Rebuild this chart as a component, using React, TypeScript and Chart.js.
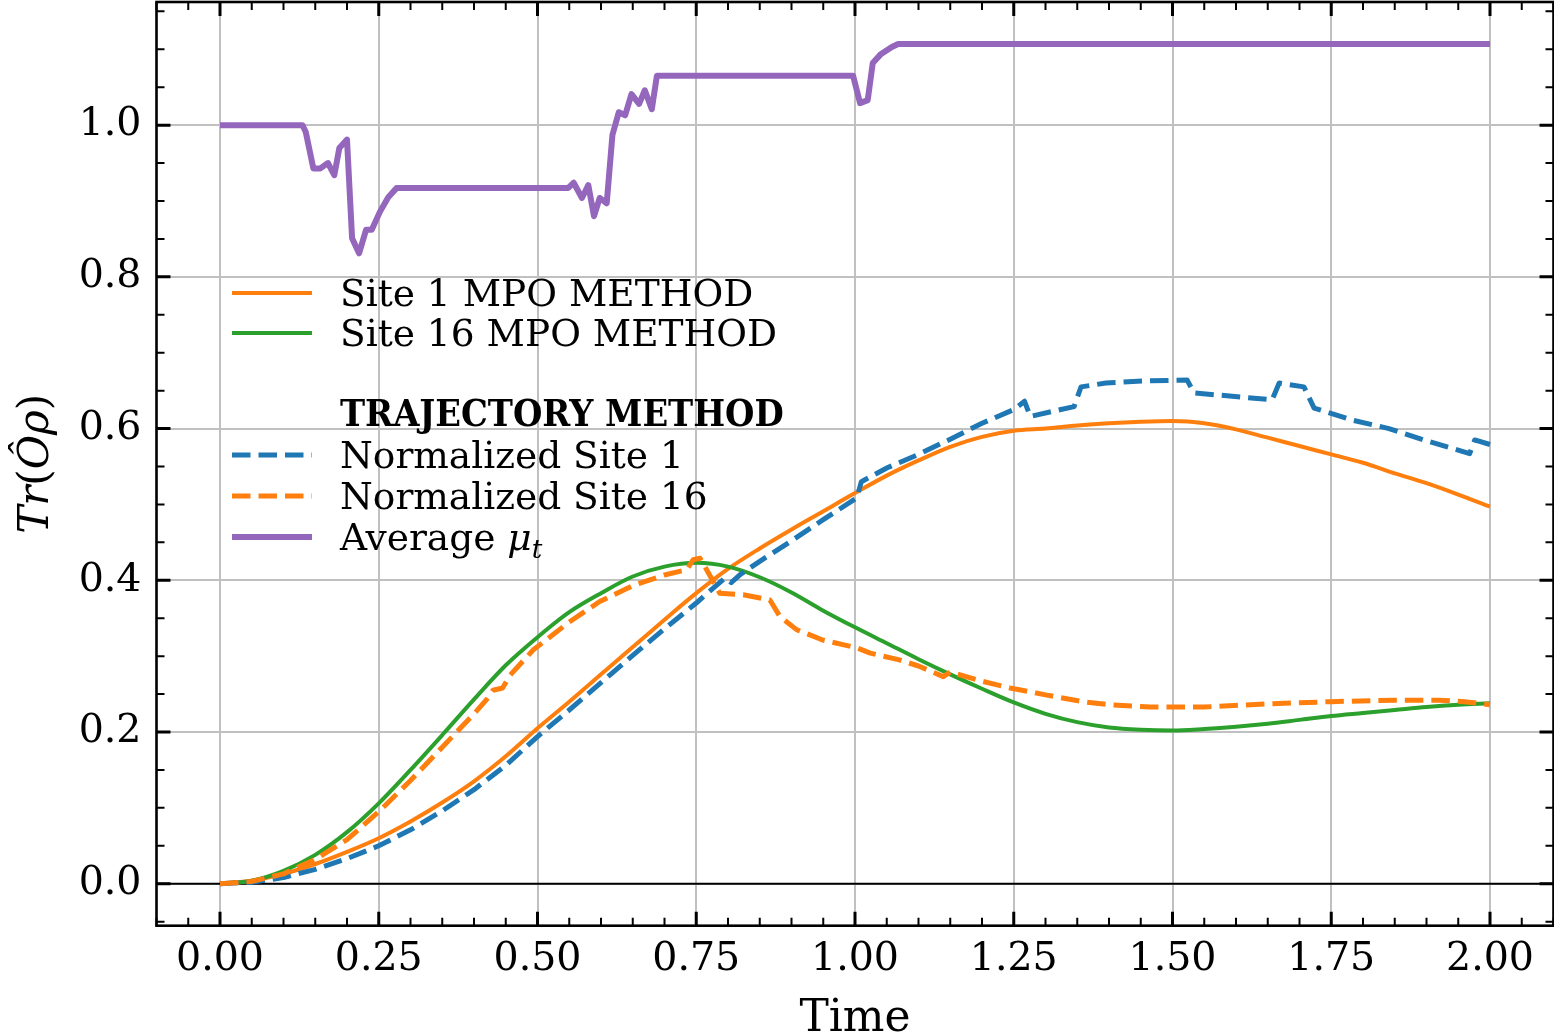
import { useEffect, useRef } from "react";
import { Chart, registerables } from "chart.js";

Chart.register(...registerables);

// ---------------- data ----------------
const site1MpoTimes = [0, 0.05, 0.1, 0.15, 0.2, 0.25, 0.3, 0.35, 0.4, 0.45, 0.5, 0.55, 0.6, 0.65, 0.7, 0.75, 0.8, 0.85, 0.9, 0.95, 1.0, 1.05, 1.1, 1.15, 1.2, 1.25, 1.3, 1.35, 1.4, 1.45, 1.5, 1.55, 1.6, 1.65, 1.7, 1.75, 1.8, 1.85, 1.9, 1.95, 2.0];
const site1MpoValues = [0, 0.004, 0.013, 0.026, 0.042, 0.06, 0.082, 0.107, 0.135, 0.168, 0.205, 0.24, 0.276, 0.312, 0.348, 0.383, 0.415, 0.442, 0.467, 0.491, 0.515, 0.538, 0.558, 0.576, 0.589, 0.597, 0.6, 0.604, 0.607, 0.609, 0.61, 0.607, 0.599, 0.588, 0.577, 0.566, 0.555, 0.541, 0.528, 0.513, 0.497];

const site16MpoTimes = [0, 0.05, 0.1, 0.15, 0.2, 0.25, 0.3, 0.35, 0.4, 0.45, 0.5, 0.55, 0.6, 0.65, 0.7, 0.75, 0.8, 0.85, 0.9, 0.95, 1.0, 1.05, 1.1, 1.15, 1.2, 1.25, 1.3, 1.35, 1.4, 1.45, 1.5, 1.55, 1.6, 1.65, 1.7, 1.75, 1.8, 1.85, 1.9, 1.95, 2.0];
const site16MpoValues = [0, 0.004, 0.017, 0.038, 0.068, 0.106, 0.15, 0.196, 0.243, 0.288, 0.325, 0.358, 0.383, 0.405, 0.418, 0.423, 0.418, 0.404, 0.384, 0.36, 0.338, 0.317, 0.296, 0.276, 0.257, 0.239, 0.224, 0.213, 0.206, 0.203, 0.202, 0.204, 0.207, 0.211, 0.216, 0.221, 0.225, 0.229, 0.233, 0.236, 0.238];

const trajSite1Times = [0, 0.05, 0.1, 0.15, 0.2, 0.25, 0.3, 0.35, 0.4, 0.45, 0.5, 0.55, 0.6, 0.65, 0.7, 0.75, 0.78, 0.795, 0.805, 0.82, 0.85, 0.9, 0.95, 1.0, 1.005, 1.01, 1.05, 1.1, 1.15, 1.2, 1.25, 1.267, 1.276, 1.345, 1.356, 1.395, 1.46, 1.523, 1.534, 1.657, 1.668, 1.707, 1.723, 1.784, 1.841, 1.896, 1.968, 1.976, 2.0];
const trajSite1Values = [0, 0.002, 0.008, 0.019, 0.033, 0.05, 0.071, 0.096, 0.124, 0.156, 0.194, 0.229, 0.265, 0.301, 0.336, 0.37, 0.392, 0.403, 0.397, 0.408, 0.425, 0.452, 0.48, 0.507, 0.515, 0.53, 0.548, 0.566, 0.586, 0.607, 0.625, 0.636, 0.616, 0.629, 0.655, 0.66, 0.663, 0.664, 0.647, 0.638, 0.66, 0.655, 0.627, 0.611, 0.6, 0.585, 0.567, 0.585, 0.579];

const trajSite16Times = [0, 0.05, 0.1, 0.15, 0.2, 0.25, 0.3, 0.35, 0.4, 0.42, 0.43, 0.445, 0.457, 0.493, 0.55, 0.598, 0.65, 0.7, 0.735, 0.745, 0.756, 0.769, 0.787, 0.824, 0.866, 0.882, 0.908, 0.95, 1.003, 1.024, 1.07, 1.1, 1.139, 1.15, 1.2, 1.244, 1.3, 1.359, 1.4, 1.465, 1.55, 1.65, 1.75, 1.85, 1.92, 1.96, 2.0];
const trajSite16Values = [0, 0.003, 0.013, 0.032, 0.058, 0.095, 0.136, 0.18, 0.224, 0.243, 0.255, 0.258, 0.275, 0.308, 0.345, 0.372, 0.393, 0.407, 0.414, 0.427, 0.429, 0.41, 0.383, 0.381, 0.374, 0.352, 0.335, 0.321, 0.311, 0.304, 0.295, 0.287, 0.273, 0.279, 0.267, 0.258, 0.249, 0.24, 0.236, 0.233, 0.233, 0.237, 0.24, 0.242, 0.242, 0.24, 0.236];

const averageMuTimes = [0, 0.13, 0.135, 0.147, 0.158, 0.17, 0.18, 0.188, 0.2, 0.208, 0.219, 0.23, 0.239, 0.252, 0.265, 0.278, 0.548, 0.557, 0.57, 0.58, 0.589, 0.598, 0.609, 0.618, 0.628, 0.638, 0.648, 0.66, 0.669, 0.68, 0.688, 0.997, 1.008, 1.02, 1.028, 1.04, 1.058, 1.068, 2.0];
const averageMuValues = [1.0, 1.0, 0.991, 0.943, 0.943, 0.95, 0.934, 0.97, 0.981, 0.851, 0.831, 0.862, 0.862, 0.886, 0.905, 0.917, 0.917, 0.924, 0.904, 0.921, 0.88, 0.904, 0.897, 0.987, 1.017, 1.013, 1.041, 1.028, 1.046, 1.021, 1.065, 1.065, 1.029, 1.033, 1.082, 1.093, 1.103, 1.107, 1.107];

const xTickValues = [0, 0.25, 0.5, 0.75, 1.0, 1.25, 1.5, 1.75, 2.0];
const yTickValues = [0, 0.2, 0.4, 0.6, 0.8, 1.0];
const xLimits = [-0.1, 2.1];
const yLimits = [-0.05535, 1.16235];
const minorStep = 0.05;

const legendLabels = ["Site 1 MPO METHOD", "Site 16 MPO METHOD", "", "TRAJECTORY METHOD", "Normalized Site 1", "Normalized Site 16", "Average μt"];

const xLabel = "Time";

// ---------------- styling ----------------
const C_ORANGE = "#ff7f0e";
const C_GREEN = "#2ca02c";
const C_BLUE = "#1f77b4";
const C_PURPLE = "#9467bd";
const SERIF = "'DejaVu Serif', serif";
const TICK_FONT = 39.5;
const LEGEND_FONT = 37.5;

const W = 1554;
const H = 1033;
const AREA = { left: 156.5, right: 1553.5, top: 2, bottom: 925.7 };

function pts(ts: number[], vs: number[]) {
  return ts.map((t, i) => ({ x: t, y: vs[i] }));
}

function minorValues(lo: number, hi: number, majors: number[]) {
  const out: number[] = [];
  const start = Math.ceil(lo / minorStep - 1e-9);
  const end = Math.floor(hi / minorStep + 1e-9);
  for (let k = start; k <= end; k++) {
    const v = k * minorStep;
    if (!majors.some((m) => Math.abs(m - v) < 1e-6)) out.push(v);
  }
  return out;
}

const decorPlugin = {
  id: "decor",
  beforeDatasetsDraw(chart: any) {
    const { ctx, chartArea: a, scales } = chart;
    const y0 = scales.y.getPixelForValue(0);
    ctx.save();
    ctx.strokeStyle = "#000";
    ctx.lineWidth = 2;
    ctx.beginPath();
    ctx.moveTo(a.left, y0);
    ctx.lineTo(a.right, y0);
    ctx.stroke();
    ctx.restore();
  },
  afterDraw(chart: any) {
    const { ctx, chartArea: a, scales } = chart;
    const xs = scales.x;
    const ys = scales.y;
    ctx.save();
    // ticks (inward, all four sides)
    ctx.strokeStyle = "#000";
    const drawX = (vals: number[], len: number, lw: number) => {
      ctx.lineWidth = lw;
      ctx.beginPath();
      vals.forEach((v) => {
        const px = xs.getPixelForValue(v);
        ctx.moveTo(px, a.bottom);
        ctx.lineTo(px, a.bottom - len);
        ctx.moveTo(px, a.top);
        ctx.lineTo(px, a.top + len);
      });
      ctx.stroke();
    };
    const drawY = (vals: number[], len: number, lw: number) => {
      ctx.lineWidth = lw;
      ctx.beginPath();
      vals.forEach((v) => {
        const py = ys.getPixelForValue(v);
        ctx.moveTo(a.left, py);
        ctx.lineTo(a.left + len, py);
        ctx.moveTo(a.right, py);
        ctx.lineTo(a.right - len, py);
      });
      ctx.stroke();
    };
    drawX(xTickValues, 14, 3);
    drawX(minorValues(xLimits[0], xLimits[1], xTickValues), 8, 2);
    drawY(yTickValues, 14, 3);
    drawY(minorValues(yLimits[0], yLimits[1], yTickValues), 8, 2);

    // frame
    ctx.lineWidth = 2.6;
    ctx.strokeRect(a.left, a.top, a.right - a.left, a.bottom - a.top);

    // legend
    const ds = chart.data.datasets;
    const byLabel: Record<string, any> = {};
    ds.forEach((d: any) => (byLabel[d.label] = d));
    const hx0 = a.left + 75.5;
    const hx1 = a.left + 155.5;
    const tx = a.left + 183.5;
    const rowY = [293, 333, 373, 413, 455, 496, 537];
    legendLabels.forEach((lab, i) => {
      const yy = rowY[i];
      if (!lab) return;
      const d = byLabel[lab];
      if (d) {
        ctx.save();
        ctx.strokeStyle = d.borderColor;
        ctx.lineWidth = d.borderWidth;
        ctx.setLineDash(d.borderDash || []);
        ctx.lineCap = "butt";
        ctx.beginPath();
        ctx.moveTo(hx0, yy);
        ctx.lineTo(hx1, yy);
        ctx.stroke();
        ctx.restore();
      }
      ctx.fillStyle = "#000";
      ctx.textBaseline = "alphabetic";
      ctx.textAlign = "left";
      if (lab === "TRAJECTORY METHOD") {
        ctx.font = `bold ${LEGEND_FONT}px 'DejaVu Serif Condensed', 'DejaVu Serif', serif`;
        ctx.fillText(lab, tx, yy + 13);
      } else if (lab === "Average μt") {
        ctx.font = `${LEGEND_FONT}px ${SERIF}`;
        const base = "Average ";
        ctx.fillText(base, tx, yy + 13);
        let cx = tx + ctx.measureText(base).width;
        ctx.font = `italic ${LEGEND_FONT}px ${SERIF}`;
        ctx.fillText("μ", cx, yy + 13);
        cx += ctx.measureText("μ").width;
        ctx.font = `italic ${LEGEND_FONT * 0.7}px ${SERIF}`;
        ctx.fillText("t", cx, yy + 21);
      } else {
        ctx.font = `${LEGEND_FONT}px ${SERIF}`;
        ctx.fillText(lab, tx, yy + 13);
      }
    });

    // x axis title
    ctx.font = `44px ${SERIF}`;
    ctx.textAlign = "center";
    ctx.textBaseline = "alphabetic";
    ctx.fillText(xLabel, (a.left + a.right) / 2, 1031);

    // y axis title: Tr(Ô ρ) in math style
    const parts = [
      { t: "Tr", it: true },
      { t: "(", it: false },
      { t: "Ô", it: true },
      { t: "ρ", it: true },
      { t: ")", it: false },
    ];
    const fs = 42;
    let total = 0;
    parts.forEach((p) => {
      ctx.font = `${p.it ? "italic " : ""}${fs}px ${SERIF}`;
      total += ctx.measureText(p.t).width;
    });
    ctx.translate(48, (a.top + a.bottom) / 2);
    ctx.rotate(-Math.PI / 2);
    ctx.textAlign = "left";
    let cx = -total / 2;
    parts.forEach((p) => {
      ctx.font = `${p.it ? "italic " : ""}${fs}px ${SERIF}`;
      ctx.fillText(p.t, cx, 0);
      cx += ctx.measureText(p.t).width;
    });
    ctx.restore();
  },
};

export default function App() {
  const ref = useRef<HTMLCanvasElement | null>(null);
  useEffect(() => {
    if (!ref.current) return;
    const common = { pointRadius: 0, pointHoverRadius: 0, fill: false, borderJoinStyle: "round", borderCapStyle: "butt", tension: 0 };
    const chart = new Chart(ref.current, {
      type: "line",
      data: {
        datasets: [
          { ...common, label: "Average μt", data: pts(averageMuTimes, averageMuValues), borderColor: C_PURPLE, borderWidth: 6 },
          { ...common, label: "Normalized Site 16", data: pts(trajSite16Times, trajSite16Values), borderColor: C_ORANGE, borderWidth: 5, borderDash: [18.5, 8] },
          { ...common, label: "Normalized Site 1", data: pts(trajSite1Times, trajSite1Values), borderColor: C_BLUE, borderWidth: 5, borderDash: [18.5, 8] },
          { ...common, label: "Site 16 MPO METHOD", data: pts(site16MpoTimes, site16MpoValues), borderColor: C_GREEN, borderWidth: 4, cubicInterpolationMode: "monotone" },
          { ...common, label: "Site 1 MPO METHOD", data: pts(site1MpoTimes, site1MpoValues), borderColor: C_ORANGE, borderWidth: 4, cubicInterpolationMode: "monotone" },
        ],
      } as any,
      options: {
        animation: false,
        responsive: false,
        devicePixelRatio: 1,
        events: [],
        layout: { padding: { top: AREA.top, right: W - AREA.right, left: 0, bottom: 0 } },
        plugins: { legend: { display: false }, tooltip: { enabled: false } },
        scales: {
          x: {
            type: "linear",
            min: xLimits[0],
            max: xLimits[1],
            afterBuildTicks: (s: any) => {
              s.ticks = xTickValues.map((v) => ({ value: v }));
            },
            afterFit: (s: any) => {
              s.height = H - AREA.bottom;
              s.paddingLeft = 0;
              s.paddingRight = 0;
            },
            ticks: {
              autoSkip: false,
              maxRotation: 0,
              minRotation: 0,
              padding: 10,
              color: "#000",
              font: { family: SERIF, size: TICK_FONT },
              callback: (v: any) => Number(v).toFixed(2),
            },
            grid: { color: "#c0c0c0", lineWidth: 2, drawTicks: false },
            border: { display: false },
          },
          y: {
            type: "linear",
            min: yLimits[0],
            max: yLimits[1],
            afterBuildTicks: (s: any) => {
              s.ticks = yTickValues.map((v) => ({ value: v }));
            },
            afterFit: (s: any) => {
              s.width = AREA.left;
              s.paddingTop = 0;
              s.paddingBottom = 0;
            },
            ticks: {
              autoSkip: false,
              padding: 15,
              color: "#000",
              font: { family: SERIF, size: TICK_FONT },
              callback: (v: any) => Number(v).toFixed(1),
            },
            grid: { color: "#c0c0c0", lineWidth: 2, drawTicks: false },
            border: { display: false },
          },
        },
      } as any,
      plugins: [decorPlugin],
    });
    return () => chart.destroy();
  }, []);
  return (
    <div style={{ position: "fixed", left: 0, top: 0, width: W, height: H, background: "#fff" }}>
      <canvas ref={ref} width={W} height={H} style={{ display: "block" }} />
    </div>
  );
}
